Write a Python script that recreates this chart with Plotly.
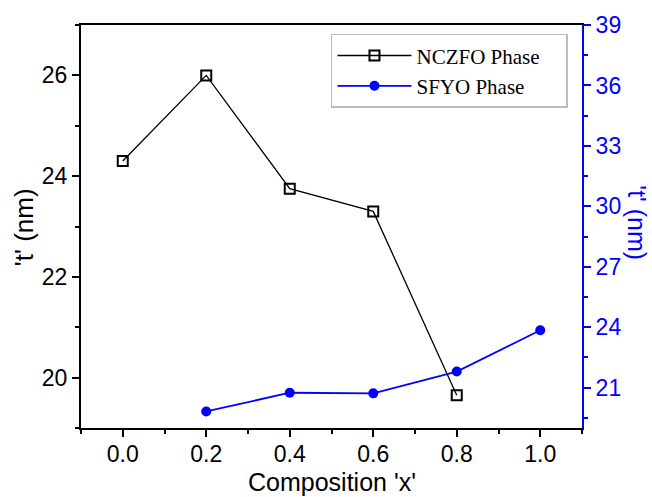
import plotly.graph_objects as go

comp = [0.0, 0.2, 0.4, 0.6, 0.8]
ncz_t = [24.3, 26.0, 23.75, 23.3, 19.65]
sfyo_comp = [0.2, 0.4, 0.6, 0.8, 1.0]
sfyo_t = [19.82, 20.75, 20.72, 21.8, 23.85]
x_ticks = [0.0, 0.2, 0.4, 0.6, 0.8, 1.0]
y1_ticks = [20, 22, 24, 26]
y2_ticks = [21, 24, 27, 30, 33, 36, 39]

BLUE = "#0000FF"
SANS = "Liberation Sans, Arial, sans-serif"
TICK = 23
TITLE = 25
PAD = "\u00a0" * 4

fig = go.Figure()
fig.add_trace(go.Scatter(
    x=comp, y=ncz_t, name="NCZFO Phase" + PAD, mode="lines+markers",
    line=dict(color="black", width=1.3),
    marker=dict(symbol="square-open", size=10, color="black", line=dict(width=2)),
))
fig.add_trace(go.Scatter(
    x=sfyo_comp, y=sfyo_t, name="SFYO Phase" + PAD, mode="lines+markers", yaxis="y2",
    line=dict(color=BLUE, width=1.8),
    marker=dict(symbol="circle", size=10, color=BLUE),
))

fig.update_layout(
    width=652, height=497,
    margin=dict(l=81, r=70, t=22, b=69),
    paper_bgcolor="white", plot_bgcolor="white",
    font=dict(family=SANS, size=TICK, color="black"),
    showlegend=True,
    legend=dict(
        x=0.972, y=0.978, xanchor="right", yanchor="top",
        bordercolor="#bbbbbb", borderwidth=1.5, bgcolor="white",
        font=dict(family="Liberation Serif, serif", size=21, color="black"),
        tracegroupgap=0, itemwidth=74,
    ),
    xaxis=dict(
        range=[-0.1, 1.1], tickvals=x_ticks, ticktext=[f"{v:.1f}" for v in x_ticks],
        showgrid=False, zeroline=False,
        showline=True, linecolor="black", linewidth=2, mirror=True,
        ticks="outside", ticklen=7, tickwidth=2, tickcolor="black",
        minor=dict(dtick=0.1, tick0=0, ticks="outside", ticklen=4, tickwidth=2, tickcolor="black"),
        tickfont=dict(size=TICK), ticklabelstandoff=-3,
    ),
    yaxis=dict(
        range=[19, 27], tickvals=y1_ticks,
        showgrid=False, zeroline=False,
        showline=True, linecolor="black", linewidth=2,
        ticks="outside", ticklen=7, tickwidth=2, tickcolor="black",
        minor=dict(dtick=1, tick0=19, ticks="outside", ticklen=4, tickwidth=2, tickcolor="black"),
        tickfont=dict(size=TICK),
    ),
    yaxis2=dict(
        range=[19, 39], tickvals=y2_ticks, overlaying="y", side="right",
        showgrid=False, zeroline=False,
        showline=True, linecolor=BLUE, linewidth=2,
        ticks="outside", ticklen=7, tickwidth=2, tickcolor=BLUE,
        minor=dict(dtick=1.5, tick0=19.5, ticks="outside", ticklen=4, tickwidth=2, tickcolor=BLUE),
        tickfont=dict(size=TICK, color=BLUE),
    ),
)

# axis titles
fig.add_annotation(
    text="Composition 'x'", xref="paper", yref="paper", x=0.5, y=-0.133,
    xanchor="center", yanchor="middle", showarrow=False,
    font=dict(size=TITLE, color="black", family=SANS),
)
fig.add_annotation(
    text="'t' (nm)", xref="paper", yref="paper", x=-0.114, y=0.498,
    xanchor="center", yanchor="middle", textangle=-90, showarrow=False,
    font=dict(size=TITLE + 1, color="black", family=SANS),
)
fig.add_annotation(
    text="'t' (nm)", xref="paper", yref="paper", x=1.108, y=0.51,
    xanchor="center", yanchor="middle", textangle=90, showarrow=False,
    font=dict(size=TITLE, color=BLUE, family=SANS),
)

fig.write_html("out.html")
